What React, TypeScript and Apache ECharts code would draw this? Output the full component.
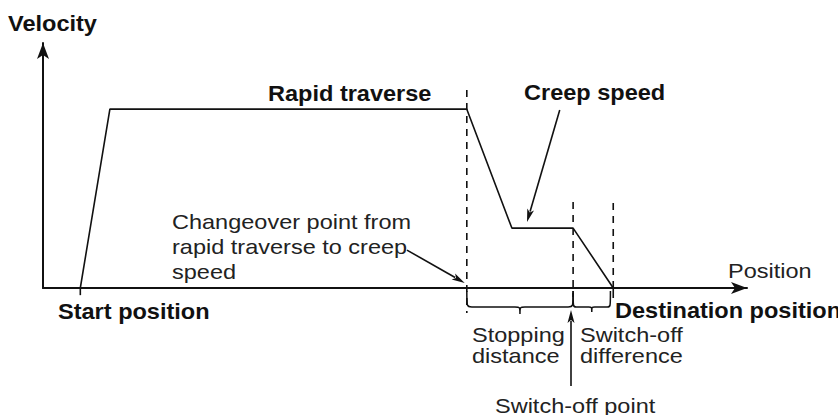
import React, { useEffect, useRef } from 'react';
import * as echarts from 'echarts';

// Velocity profile (position units 0..100, velocity units where rapid traverse = 100)
const positions = [5.3, 9.5, 60.2, 66.6, 75.3, 81];
const velocities = [0, 100, 100, 33.5, 33.5, 0];

// dashed guide lines: [position, topVelocity, bottomVelocity]
const guideLines = [
  [60.2, 110.7, -14],
  [75.3, 48.1, -5],
  [81, 47.5, 0],
];
// short solid ticks below the axis: [position, top, bottom]
const axisTicks = [
  [5.3, 0, -4],
  [81, 0, -5.6],
];
// annotation arrows: [fromX, fromY, toX, toY]
const arrowLines = [
  [73.4, 99.5, 68.75, 36.9],
  [51.7, 21.2, 59.9, 2.8],
  [75.0, -54.8, 75.0, -12.3],
];
// braces under the axis: [fromX, toX]
const braces = [
  [60.2, 75.3],
  [75.3, 80.6],
];

const labelVelocity = 'Velocity';
const labelPosition = 'Position';
const labelRapid = 'Rapid traverse';
const labelCreep = 'Creep speed';
const labelChangeover = 'Changeover point from\nrapid traverse to creep\nspeed';
const labelStart = 'Start position';
const labelDestination = 'Destination position';
const labelStopping = 'Stopping\ndistance';
const labelSwitchDiff = 'Switch-off\ndifference';
const labelSwitchPoint = 'Switch-off point';

const FF = '"Liberation Sans", Arial, Helvetica, sans-serif';
const boldFont = `bold 22px ${FF}`;
const normalFont = `21px ${FF}`;
const INK = '#111';
const TXT = '#222';

function txt(text: string, x: number, y: number, bold: boolean, extra: any = {}) {
  const va = extra.va || 'middle';
  return {
    type: 'text',
    x,
    y,
    scaleX: bold ? 1.07 : 1.12,
    z: 100,
    style: {
      text,
      x: 0,
      y: 0,
      font: bold ? boldFont : normalFont,
      fill: bold ? INK : TXT,
      align: 'left',
      textAlign: 'left',
      verticalAlign: va,
      textVerticalAlign: va,
      lineHeight: extra.lineHeight,
    },
  };
}

export default function App() {
  const ref = useRef<HTMLDivElement>(null);
  useEffect(() => {
    if (!ref.current) return;
    const chart = echarts.init(ref.current, null, { renderer: 'svg' });
    const option: any = {
      animation: false,
      backgroundColor: '#fff',
      grid: { left: 43, right: 91, top: 43, bottom: 127, containLabel: false },
      xAxis: {
        type: 'value',
        min: 0,
        max: 100,
        axisLine: {
          show: true,
          onZero: true,
          symbol: ['none', 'arrow'],
          symbolSize: [9, 16],
          lineStyle: { color: INK, width: 2 },
        },
        axisTick: { show: false },
        axisLabel: { show: false },
        splitLine: { show: false },
      },
      yAxis: {
        type: 'value',
        min: 0,
        max: 137,
        axisLine: {
          show: true,
          onZero: true,
          symbol: ['none', 'arrow'],
          symbolSize: [9, 16],
          lineStyle: { color: INK, width: 2 },
        },
        axisTick: { show: false },
        axisLabel: { show: false },
        splitLine: { show: false },
      },
      series: [
        {
          type: 'line',
          name: 'profile',
          data: positions.map((p, i) => [p, velocities[i]]),
          symbol: 'none',
          clip: false,
          lineStyle: { color: INK, width: 1.6 },
          z: 5,
        },
        {
          type: 'custom',
          name: 'guides',
          data: guideLines,
          encode: { x: 0, y: [1, 2] },
          clip: false,
          renderItem: (params: any, api: any) => {
            const x = api.value(0);
            const a = api.coord([x, api.value(1)]);
            const b = api.coord([x, api.value(2)]);
            return {
              type: 'line',
              shape: { x1: a[0], y1: a[1], x2: b[0], y2: b[1] },
              style: { stroke: INK, lineWidth: 1.6, lineDash: [7, 6] },
            };
          },
          z: 4,
        },
        {
          type: 'custom',
          name: 'ticks',
          data: axisTicks,
          encode: { x: 0, y: [1, 2] },
          clip: false,
          renderItem: (params: any, api: any) => {
            const x = api.value(0);
            const a = api.coord([x, api.value(1)]);
            const b = api.coord([x, api.value(2)]);
            return {
              type: 'line',
              shape: { x1: a[0], y1: a[1], x2: b[0], y2: b[1] },
              style: { stroke: INK, lineWidth: 1.6 },
            };
          },
          z: 4,
        },
        {
          type: 'custom',
          name: 'arrows',
          data: arrowLines,
          encode: { x: [0, 2], y: [1, 3] },
          clip: false,
          renderItem: (params: any, api: any) => {
            const p1 = api.coord([api.value(0), api.value(1)]);
            const p2 = api.coord([api.value(2), api.value(3)]);
            const dx = p2[0] - p1[0];
            const dy = p2[1] - p1[1];
            const len = Math.hypot(dx, dy) || 1;
            const ux = dx / len;
            const uy = dy / len;
            const hl = 13;
            const hw = 3.5;
            const bx = p2[0] - ux * hl;
            const by = p2[1] - uy * hl;
            return {
              type: 'group',
              children: [
                {
                  type: 'line',
                  shape: { x1: p1[0], y1: p1[1], x2: bx + ux * 2, y2: by + uy * 2 },
                  style: { stroke: INK, lineWidth: 1.6 },
                },
                {
                  type: 'polygon',
                  shape: {
                    points: [
                      [p2[0], p2[1]],
                      [bx - uy * hw, by + ux * hw],
                      [bx + ux * 3, by + uy * 3],
                      [bx + uy * hw, by - ux * hw],
                    ],
                  },
                  style: { fill: INK },
                },
              ],
            };
          },
          z: 6,
        },
        {
          type: 'custom',
          name: 'braces',
          data: braces,
          encode: { x: [0, 1] },
          clip: false,
          renderItem: (params: any, api: any) => {
            const a = api.coord([api.value(0), 0]);
            const b = api.coord([api.value(1), 0]);
            const x1 = a[0];
            const x2 = b[0];
            const y0 = a[1];
            const big = x2 - x1 > 60;
            const h = 19;
            const t = big ? 7 : 5;
            const r = big ? 5 : 3;
            const s = 3;
            const mid = (x1 + x2) / 2;
            const d = [
              `M${x1},${y0 + s}`,
              `C${x1},${y0 + h} ${x1},${y0 + h} ${x1 + r},${y0 + h}`,
              `L${mid - r},${y0 + h}`,
              `C${mid},${y0 + h} ${mid},${y0 + h} ${mid},${y0 + h + t}`,
              `C${mid},${y0 + h} ${mid},${y0 + h} ${mid + r},${y0 + h}`,
              `L${x2 - r},${y0 + h}`,
              `C${x2},${y0 + h} ${x2},${y0 + h} ${x2},${y0 + s}`,
            ].join(' ');
            return {
              type: 'path',
              shape: { pathData: d },
              style: { stroke: INK, lineWidth: 1.5, fill: 'none' },
            };
          },
          z: 4,
        },
      ],
      graphic: {
        elements: [
          txt(labelVelocity, 8, 23, true),
          txt(labelRapid, 268, 93, true),
          txt(labelCreep, 524, 92.5, true),
          txt(labelChangeover, 172, 209.5, false, { va: 'top', lineHeight: 25 }),
          txt(labelStart, 58, 311.5, true),
          txt(labelPosition, 728, 270.5, false),
          txt(labelDestination, 615, 310, true),
          txt(labelStopping, 472, 324, false, { va: 'top', lineHeight: 21.5 }),
          txt(labelSwitchDiff, 580, 324, false, { va: 'top', lineHeight: 21.5 }),
          txt(labelSwitchPoint, 495, 405.5, false),
        ],
      },
    };
    chart.setOption(option);
    return () => chart.dispose();
  }, []);
  return (
    <div
      ref={ref}
      style={{ position: 'fixed', left: 0, top: 0, width: 838, height: 415, background: '#fff' }}
    />
  );
}
